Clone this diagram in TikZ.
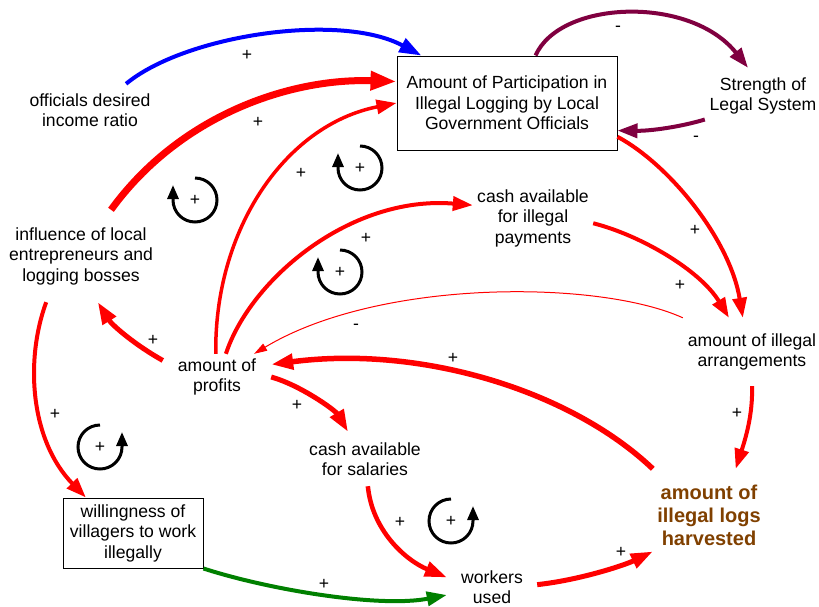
\documentclass[tikz,border=0pt]{standalone}
\usepackage{fontspec}
\setmainfont{Liberation Sans}
\usetikzlibrary{arrows.meta}
\definecolor{cred}{RGB}{255,0,0}
\definecolor{cblue}{RGB}{0,0,255}
\definecolor{cmaroon}{RGB}{128,0,64}
\definecolor{cgreen}{RGB}{0,128,0}
\definecolor{cbrown}{RGB}{128,64,0}
\begin{document}
\begin{tikzpicture}[x=1pt,y=-1pt,
  var/.style={font=\fontsize{17.6}{20.5}\selectfont, align=center, inner sep=0pt},
  boxv/.style={var, draw=black, line width=1pt, fill=white},
  sign/.style={font=\fontsize{17.6}{20.5}\selectfont, inner sep=0pt},
  link/.style={draw=cred, line width=4pt, -{Triangle[length=20pt,width=14pt]}},
  thicklink/.style={link, line width=7pt, -{Triangle[length=26pt,width=18pt]}},
  midlink/.style={link, line width=5pt, -{Triangle[length=22pt,width=15pt]}},
  thinlink/.style={draw=cred, line width=1pt, -{Triangle[length=13pt,width=8pt]}},
  loopar/.style={draw=black, line width=3pt, -{Triangle[length=14pt,width=11pt]}},
]
\useasboundingbox (0,0) rectangle (819,606);

% variables
\node[var, minimum width=132pt, minimum height=52pt] (off) at (90,110) {officials desired\\income ratio};
\node[boxv, minimum width=220pt, minimum height=94pt] (box) at (507,103) {Amount of Participation in\\Illegal Logging by Local\\Government Officials};
\node[var, minimum width=116pt, minimum height=56pt] (str) at (763,96) {Strength of\\Legal System};
\node[var, minimum width=120pt, minimum height=63pt] (cip) at (533,218) {cash available\\for illegal\\payments};
\node[var, minimum width=154pt, minimum height=92pt] (inf) at (81,256) {influence of local\\entrepreneurs and\\logging bosses};
\node[var, minimum width=138pt, minimum height=68pt] (arr) at (752,352) {amount of illegal\\arrangements};
\node[var, minimum width=108pt, minimum height=46pt] (prof) at (217,377) {amount of\\profits};
\node[var, minimum width=118pt, minimum height=54pt] (csal) at (365,459) {cash available\\for salaries};
\node[var, minimum width=112pt, minimum height=92pt, text=cbrown, font=\fontsize{20}{23}\selectfont\bfseries] (harv) at (709,515) {amount of\\illegal logs\\harvested};
\node[boxv, minimum width=140pt, minimum height=70pt] (will) at (133,533) {willingness of\\villagers to work\\illegally};
\node[var, minimum width=90pt, minimum height=42pt] (work) at (492,587) {workers\\used};

% connectors
\draw[link, draw=cblue, -{Triangle[length=22pt,width=15pt]}] (off.36) .. controls (185,35) and (340,12) .. (box.151);
\draw[thicklink] (inf.57) .. controls (180,115) and (290,78) .. (box.169);
\draw[link, line width=3.5pt] (prof.93) .. controls (214,230) and (285,125) .. (box.west);
\draw[link] (prof.69) .. controls (250,280) and (350,195) .. (cip.168);
\draw[link] (cip.-5) .. controls (640,235) and (700,270) .. (arr.124);
\draw[link] (box.-17) .. controls (670,165) and (730,240) .. (arr.105);
\draw[link, draw=cmaroon] (box.59) .. controls (560,0) and (690,-5) .. (str.118);
\draw[link, draw=cmaroon] (str.-158) .. controls (680,127) and (650,131) .. (box.-14);
\draw[thinlink] (arr.north west) .. controls (600,280) and (380,278) .. (prof.32);
\draw[midlink, line width=5.5pt] (harv.north west) .. controls (570,390) and (420,345) .. (prof.13);
\draw[midlink] (prof.163) .. controls (135,345) and (112,325) .. (inf.-70);
\draw[link] (inf.-127) .. controls (25,360) and (30,440) .. (will.143);
\draw[midlink] (prof.east) .. controls (300,385) and (335,410) .. (csal.122);
\draw[midlink, line width=4.5pt] (csal.-84) .. controls (372,530) and (405,560) .. (work.168);
\draw[link, draw=cgreen] (will.south east) .. controls (270,590) and (380,608) .. (work.-170);
\draw[midlink] (work.3) .. controls (580,580) and (625,565) .. (harv.-147);
\draw[link] (arr.south) .. controls (753,415) and (745,440) .. (harv.60);

% polarity signs
\node[sign] (s1) at (247,55) {+};
\node[sign] (s2) at (258,122) {+};
\node[sign] (s3) at (301,173) {+};
\node[sign] (s4) at (366,238) {+};
\node[sign] (s5) at (680,285) {+};
\node[sign] (s6) at (695,230) {+};
\node[sign] (s7) at (618,29) {-};
\node[sign] (s8) at (696,139) {-};
\node[sign] (s9) at (356,327) {-};
\node[sign] (s10) at (453,358) {+};
\node[sign] (s11) at (153,340) {+};
\node[sign] (s12) at (55,414) {+};
\node[sign] (s13) at (297,405) {+};
\node[sign] (s14) at (400,522) {+};
\node[sign] (s15) at (324,584) {+};
\node[sign] (s16) at (621,552) {+};
\node[sign] (s17) at (737,413) {+};

% loop markers
\node[sign] (l1) at (195,200) {+};
\node[sign] (l2) at (360,168) {+};
\node[sign] (l3) at (340,272) {+};
\node[sign] (l4) at (100,447) {+};
\node[sign] (l5) at (451,521) {+};
\foreach \L in {l1,l2,l3}{
  \begin{scope}[shift={(\L.center)}, y=1pt]
    \draw[loopar] (90:22) arc[start angle=90, end angle=-180, radius=22] -- ++(0,15);
  \end{scope}
}
\foreach \L in {l4,l5}{
  \begin{scope}[shift={(\L.center)}, y=1pt]
    \draw[loopar] (90:22) arc[start angle=90, end angle=360, radius=22] -- ++(0,15);
  \end{scope}
}
\end{tikzpicture}
\end{document}
